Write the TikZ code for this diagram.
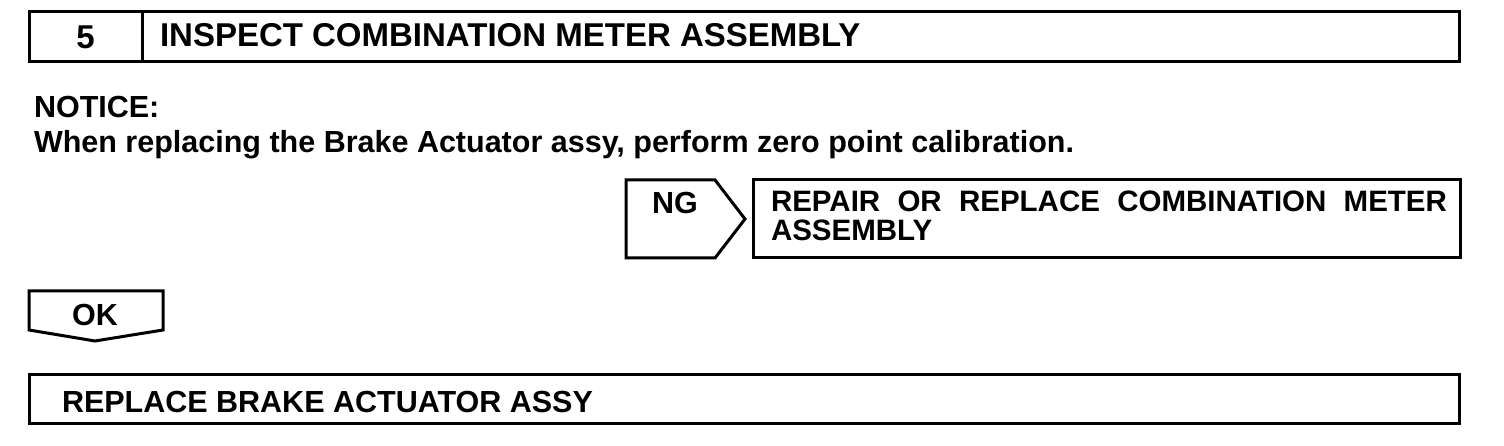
\documentclass[tikz,border=0pt]{standalone}
\usepackage{fontspec}
\setmainfont{Liberation Sans}
\usetikzlibrary{positioning}
\tikzstyle{squared} = [rectangle, draw=black, line width=3pt, outer sep=0pt, inner sep=0pt, text centered]
\tikzstyle{txt} = [inner sep=0pt, outer sep=0pt]
\tikzstyle{outline} = [draw=black, line width=3pt, line join=miter]
\tikzstyle{bigtxt} = [font=\bfseries\fontsize{33}{33}\selectfont]
\tikzstyle{tighttxt} = [font=\bfseries\fontsize{29.5}{27}\selectfont]

\begin{document}
\begin{tikzpicture}[x=1pt, y=-1pt, font=\bfseries\fontsize{30.5}{27}\selectfont]
			\useasboundingbox (0,0) rectangle (1504,446);
			
			% header
			\node (num) [squared, bigtxt, minimum width=113pt, minimum height=50pt] at (85.5,37) {5};
			\node (head) [squared, minimum width=1317pt, minimum height=50pt, right=0pt of num] {};
			\node (headtxt) [txt, bigtxt, anchor=base west] at (160,47) {INSPECT COMBINATION METER ASSEMBLY};
			
			% notice
			\node (notice) [txt, anchor=base west] at (34,118) {NOTICE:};
			\node (when) [txt, anchor=base west] at (34,153) {When replacing the Brake Actuator assy, perform zero point calibration.};
			
			% NG branch
			\draw[outline] (626,180) -- (715,180) -- (745,219) -- (715,258) -- (626,258) -- cycle;
			\node (ng) [txt, anchor=base] at (675,214) {NG};
			\node (repair) [squared, minimum width=707pt, minimum height=78pt, anchor=north west] at (753,180) {};
			\node (repairA) [txt, tighttxt, anchor=base west] at (771,212) {\makebox[676pt][s]{REPAIR OR REPLACE COMBINATION METER}};
			\node (repairB) [txt, tighttxt, anchor=base west] at (771,241) {ASSEMBLY};
			
			% OK branch
			\draw[outline] (29,291) -- (163,291) -- (163,330) -- (95,341) -- (29,330) -- cycle;
			\node (ok) [txt, anchor=base] at (95,325) {OK};
			\node (replace) [squared, minimum width=1430pt, minimum height=49pt, anchor=north west] at (29,374) {};
			\node (replacetxt) [txt, anchor=base west] at (62,412) {REPLACE BRAKE ACTUATOR ASSY};
			
\end{tikzpicture}
\end{document}
